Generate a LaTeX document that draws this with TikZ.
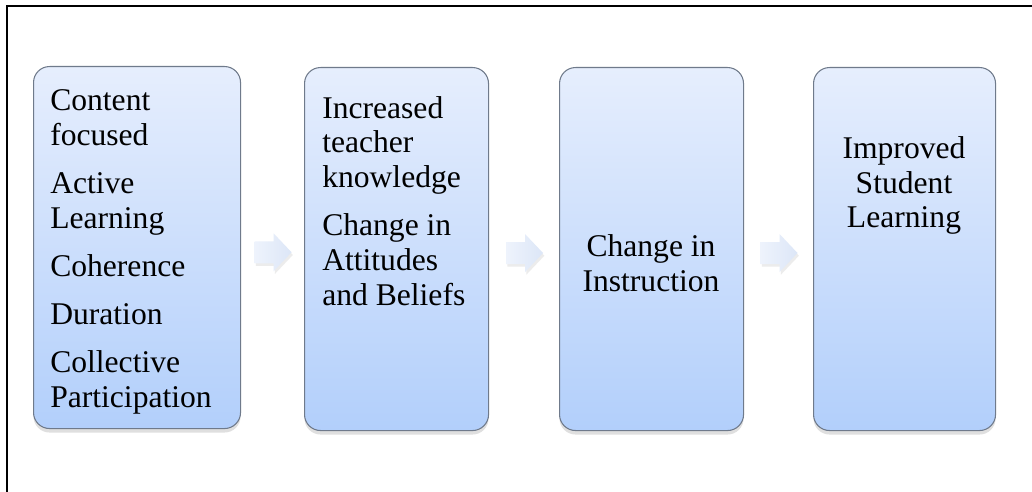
\documentclass[tikz,border=0pt]{standalone}
\usepackage{fontspec}
\setmainfont{Liberation Serif}
\usetikzlibrary{shadows,calc}
\definecolor{boxtop}{HTML}{E6EEFD}
\definecolor{boxbot}{HTML}{B2CFFB}
\definecolor{boxline}{HTML}{6F7A8B}
\definecolor{arrL}{HTML}{EEF3FC}
\definecolor{arrR}{HTML}{DCE6F7}
\begin{document}
\begin{tikzpicture}[x=0.75pt,y=-0.75pt,
  stepbox/.style={draw=boxline, line width=0.8pt, rounded corners=12pt,
    top color=boxtop, bottom color=boxbot, anchor=north west, inner sep=0pt,
    drop shadow={shadow xshift=0pt, shadow yshift=-3pt, opacity=0.25}},
  txt/.style={font=\fontsize{23.7}{26}\selectfont, inner sep=0pt, anchor=base west},
  ctxt/.style={txt, anchor=base},
  flowarrow/.style={left color=arrL, right color=arrR, draw=none,
    drop shadow={shadow xshift=1pt, shadow yshift=-2pt, opacity=0.15}}
]
\useasboundingbox (0,0) rectangle (1032,492);
\fill[white] (0,0) rectangle (1032,492);
\draw[line width=1.4pt] (7,492) -- (7,6) -- (1032,6);

% boxes
\node[stepbox, minimum width=155.25pt, minimum height=271.5pt] (b1) at (33,66) {};
\node[stepbox, minimum width=138pt, minimum height=272.25pt] (b2) at (304,67) {};
\node[stepbox, minimum width=138pt, minimum height=272.25pt] (b3) at (559,67) {};
\node[stepbox, minimum width=136.5pt, minimum height=272.25pt] (b4) at (813,67) {};

% box 1 text
\node[txt] (t1a) at (50,110) {Content};
\node[txt] (t1b) at (50,145) {focused};
\node[txt] (t1c) at (50,193) {Active};
\node[txt] (t1d) at (50,228) {Learning};
\node[txt] (t1e) at (50,276) {Coherence};
\node[txt] (t1f) at (50,324) {Duration};
\node[txt] (t1g) at (50,372) {Collective};
\node[txt] (t1h) at (50,407) {Participation};

% box 2 text
\node[txt] (t2a) at (322,118) {Increased};
\node[txt] (t2b) at (322,152) {teacher};
\node[txt] (t2c) at (322,187) {knowledge};
\node[txt] (t2d) at (322,235) {Change in};
\node[txt] (t2e) at (322,270) {Attitudes};
\node[txt] (t2f) at (322,305) {and Beliefs};

% box 3 text
\node[ctxt] (t3a) at (651,256) {Change in};
\node[ctxt] (t3b) at (651,291) {Instruction};

% box 4 text
\node[ctxt] (t4a) at (904,158) {Improved};
\node[ctxt] (t4b) at (904,193) {Student};
\node[ctxt] (t4c) at (904,227) {Learning};

% arrows between boxes
\coordinate (a1) at ($($(b1.east)!0.5!(b2.west)$)+(0,4)$);
\coordinate (a2) at ($($(b2.east)!0.5!(b3.west)$)+(0,4)$);
\coordinate (a3) at ($($(b3.east)!0.5!(b4.west)$)+(0,4)$);
\foreach \a in {a1,a2,a3}{
  \path[flowarrow] (\a) +(-18,-11) -- +(1,-11) -- +(1,-19) -- +(19,0)
    -- +(1,19) -- +(1,11) -- +(-18,11) -- cycle;
}
\end{tikzpicture}
\end{document}
